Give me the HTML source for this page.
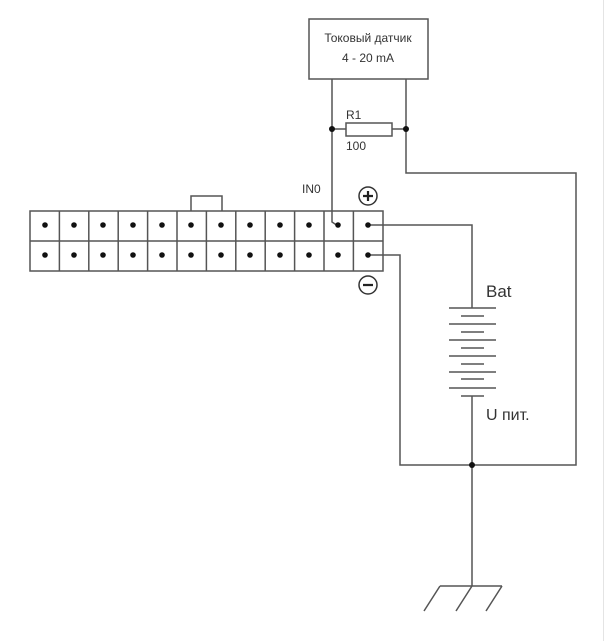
<!DOCTYPE html>
<html><head><meta charset="utf-8"><style>body{margin:0;background:#fff}svg{display:block}</style></head><body>
<svg width="605" height="641" xmlns="http://www.w3.org/2000/svg" font-family="Liberation Sans, DejaVu Sans, sans-serif">
<path d="M603.5 0V641" stroke="#e4e4e4" stroke-width="1"/>
<g stroke="#555" stroke-width="1.5" fill="none">
<rect x="309" y="19" width="119" height="60" fill="#fff"/>
<path d="M332 79V222L338 226"/>
<path d="M406 79V173H576V465H400V255H368"/>
<path d="M332 129H346M392 129H406"/>
<rect x="346" y="123" width="46" height="13"/>
<path d="M368 225H472V308"/>
<path d="M472 396V586"/>
<path d="M440 586H502M440 586L424 611M472 586L456 611M502 586L486 611"/>
<rect x="30" y="211" width="353" height="60"/>
<path d="M30 241H383"/>
<path d="M191 211V196H222V211"/>
<path d="M59.4 211V271M88.8 211V271M118.2 211V271M147.6 211V271M177 211V271M206.4 211V271M235.8 211V271M265.2 211V271M294.6 211V271M324 211V271M353.4 211V271"/>
<path d="M449 308H496M461 316H484M449 324H496M461 332H484M449 340H496M461 348H484M449 356H496M461 364H484M449 372H496M461 379H484M449 388H496M461 396H484"/>
<circle cx="368" cy="196" r="9" stroke="#333"/>
<circle cx="368" cy="285" r="9" stroke="#333"/>
</g>
<g stroke="#222" stroke-width="2.2"><path d="M363 196H373M368 191V201M363 285H373"/></g>
<g fill="#111">
<circle cx="332" cy="129" r="3"/><circle cx="406" cy="129" r="3"/><circle cx="472" cy="465" r="3"/>
<circle cx="45" cy="225" r="2.8"/><circle cx="74" cy="225" r="2.8"/><circle cx="103" cy="225" r="2.8"/><circle cx="133" cy="225" r="2.8"/><circle cx="162" cy="225" r="2.8"/><circle cx="191" cy="225" r="2.8"/><circle cx="221" cy="225" r="2.8"/><circle cx="250" cy="225" r="2.8"/><circle cx="280" cy="225" r="2.8"/><circle cx="309" cy="225" r="2.8"/><circle cx="338" cy="225" r="2.8"/><circle cx="368" cy="225" r="2.8"/>
<circle cx="45" cy="255" r="2.8"/><circle cx="74" cy="255" r="2.8"/><circle cx="103" cy="255" r="2.8"/><circle cx="133" cy="255" r="2.8"/><circle cx="162" cy="255" r="2.8"/><circle cx="191" cy="255" r="2.8"/><circle cx="221" cy="255" r="2.8"/><circle cx="250" cy="255" r="2.8"/><circle cx="280" cy="255" r="2.8"/><circle cx="309" cy="255" r="2.8"/><circle cx="338" cy="255" r="2.8"/><circle cx="368" cy="255" r="2.8"/>
</g>
<g fill="#333" font-size="12">
<text x="368" y="42" text-anchor="middle">Токовый датчик</text>
<text x="368" y="62" text-anchor="middle">4 - 20 mA</text>
<text x="346" y="119">R1</text>
<text x="346" y="150">100</text>
<text x="302" y="193">IN0</text>
<text x="486" y="297" font-size="17">Bat</text>
<text x="486" y="420" font-size="16">U пит.</text>
</g>
</svg>
</body></html>
